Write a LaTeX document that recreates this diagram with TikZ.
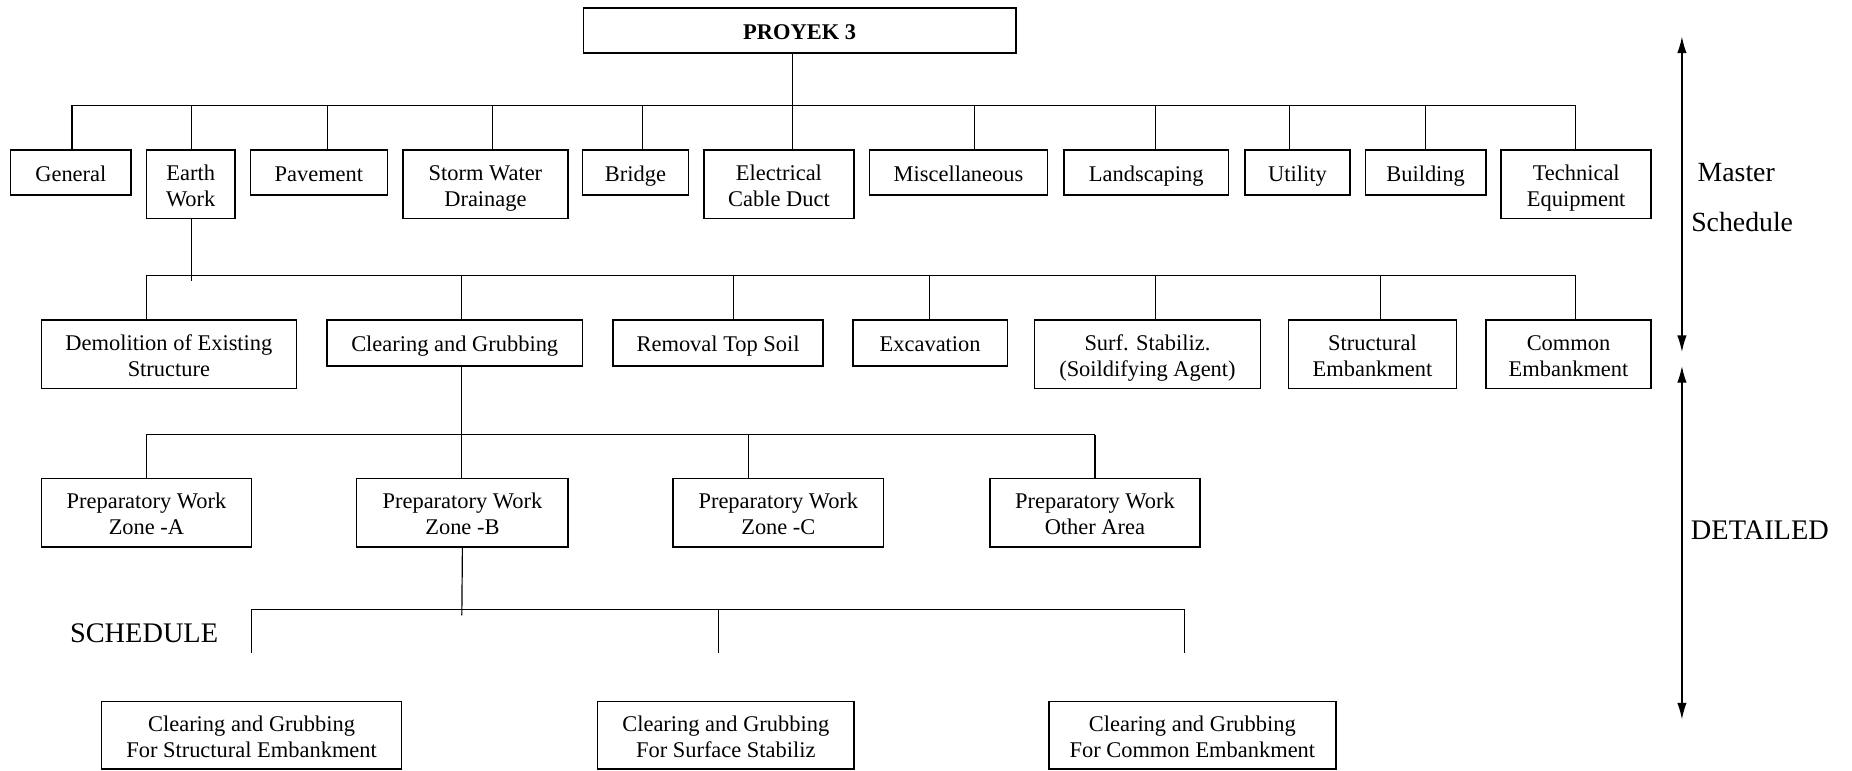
\documentclass[tikz,border=0pt]{standalone}
\usepackage{fontspec}
\setmainfont{Liberation Serif}
\usetikzlibrary{arrows.meta}
\tikzset{
  box/.style={draw, line width=1.3pt, inner sep=0pt, align=center,
    font=\fontsize{19}{22}\selectfont},
  conn/.style={line width=1pt},
  side/.style={font=\fontsize{23.5}{26}\selectfont, inner sep=0pt},
  sidecap/.style={font=\fontsize{24}{26}\selectfont, inner sep=0pt},
  axis/.style={line width=1.1pt, -{Latex[length=14pt,width=8pt]}}
}
\newcommand\bx[6]{\node[box, minimum width={(#4-#2)*1pt}, minimum height={(#5-#3)*1pt}] (#1) at ({(#2+#4)/2},{(#3+#5)/2}) {\rule{0pt}{20pt}#6\rule[-5pt]{0pt}{5pt}};}
\begin{document}
\begin{tikzpicture}[x=1pt,y=-1pt]
\useasboundingbox (0,0) rectangle (1568,652);
% top
\bx{proyek}{494}{7}{860}{45}{\textbf{PROYEK 3}}
% level 1
\bx{gen}{9}{127}{111}{165}{General}
\bx{earth}{124}{127}{199}{185}{Earth\\Work}
\bx{pave}{212}{127}{328}{165}{Pavement}
\bx{storm}{341}{127}{481}{185}{Storm Water\\Drainage}
\bx{bridge}{493}{127}{583}{165}{Bridge}
\bx{elec}{596}{127}{723}{185}{Electrical\\Cable Duct}
\bx{misc}{736}{127}{887}{165}{Miscellaneous}
\bx{land}{901}{127}{1040}{165}{Landscaping}
\bx{util}{1054}{127}{1143}{165}{Utility}
\bx{build}{1156}{127}{1258}{165}{Building}
\bx{tech}{1271}{127}{1398}{185}{Technical\\Equipment}
% level 2
\bx{demo}{35}{271}{251}{329}{Demolition of Existing\\Structure}
\bx{clear}{277}{271}{493}{310}{Clearing and Grubbing}
\bx{remov}{519}{271}{697}{310}{Removal Top Soil}
\bx{excav}{722}{271}{853}{310}{Excavation}
\bx{surf}{876}{271}{1067}{329}{Surf. Stabiliz.\\(Soildifying Agent)}
\bx{struct}{1091}{271}{1233}{329}{Structural\\Embankment}
\bx{common}{1258}{271}{1398}{329}{Common\\Embankment}
% level 3
\bx{za}{35}{405}{213}{463}{Preparatory Work\\Zone -A}
\bx{zb}{302}{405}{481}{463}{Preparatory Work\\Zone -B}
\bx{zc}{570}{405}{748}{463}{Preparatory Work\\Zone -C}
\bx{zo}{838}{405}{1016}{463}{Preparatory Work\\Other Area}
% level 4
\bx{cs}{86}{594}{340}{651}{Clearing and Grubbing\\For Structural Embankment}
\bx{cf}{506}{594}{723}{651}{Clearing and Grubbing\\For Surface Stabiliz}
\bx{cc}{888}{594}{1131}{651}{Clearing and Grubbing\\For Common Embankment}
% bus 1
\draw[conn] (proyek.south -| 671,0) -- (671,89);
\draw[conn] (61,89) -- (1334,89);
\foreach \n/\x in {gen/61,earth/162,pave/277,storm/417,bridge/544,elec/671,misc/825,land/978,util/1092,build/1207,tech/1334}
  \draw[conn] (\x,89) -- (\n.north -| \x,0);
% bus 2
\coordinate (e2) at (162,238);
\draw[conn] (earth.south -| 162,0) -- (e2);
\draw[conn] (124,233) -- (1334,233);
\foreach \n/\x in {demo/124,clear/391,remov/621,excav/787,surf/978,struct/1169,common/1334}
  \draw[conn] (\x,233) -- (\n.north -| \x,0);
% bus 3
\draw[conn] (clear.south -| 391,0) -- (391,368);
\draw[conn] (124,368) -- (927,368);
\foreach \n/\x in {za/124,zb/391,zc/634,zo/927}
  \draw[conn] (\x,368) -- (\n.north -| \x,0);
% bus 4
\coordinate (e4) at (391,521);
\draw[conn] (zb.south) -- (e4);
\draw[conn] (213,516) -- (1003,516);
\foreach \x in {213,608,1003}{
  \coordinate (d\x) at (\x,553);
  \draw[conn] (\x,516) -- (d\x);
}
% side labels
\node[sidecap] (sched) at (122,536) {SCHEDULE};
\node[side] (master) at (1470,146) {Master};
\node[side] (msched) at (1475,188) {Schedule};
\node[sidecap] (det) at (1490,449) {DETAILED};
% axis arrows
\coordinate (a1) at (1424,165);
\coordinate (a2) at (1424,460);
\draw[axis] (a1) -- (1424,31);
\draw[axis] (a1) -- (1424,298);
\draw[axis] (a2) -- (1424,310);
\draw[axis] (a2) -- (1424,609);
\end{tikzpicture}
\end{document}
